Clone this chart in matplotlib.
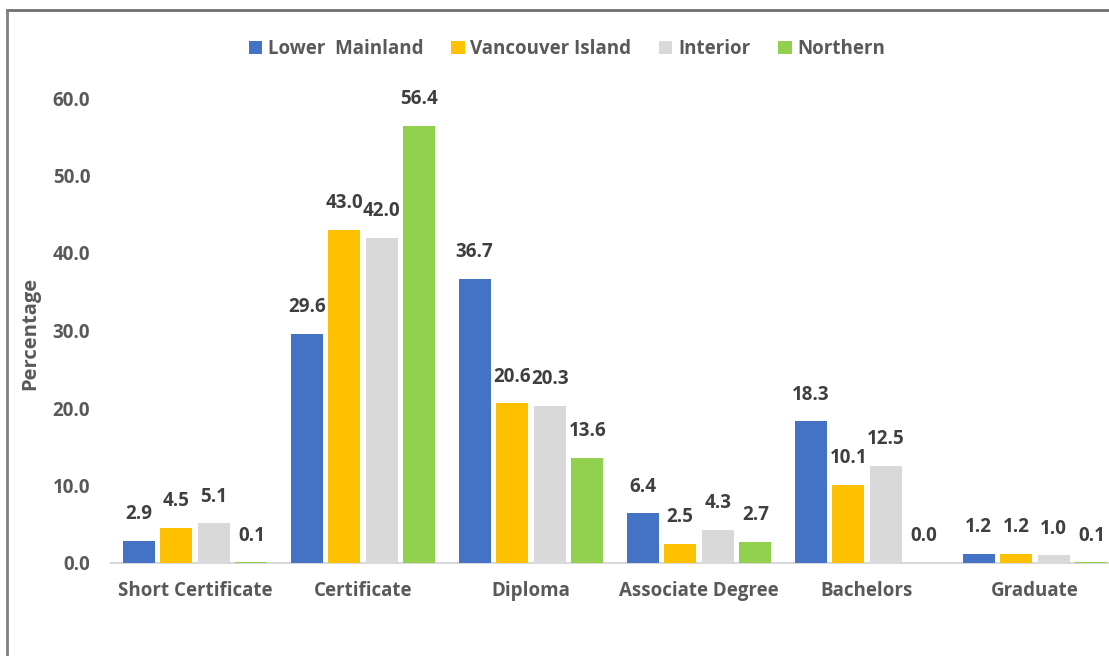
import matplotlib
matplotlib.use("Agg")
import matplotlib.pyplot as plt
from matplotlib.lines import Line2D
import numpy as np

plt.rcParams['font.family'] = ['Open Sans', 'DejaVu Sans']
plt.rcParams['font.weight'] = 'bold'

categories = ['Short Certificate', 'Certificate', 'Diploma',
              'Associate Degree', 'Bachelors', 'Graduate']
regions = ['Lower  Mainland', 'Vancouver Island', 'Interior', 'Northern']
lower_mainland = [2.9, 29.6, 36.7, 6.4, 18.3, 1.2]
vancouver_island = [4.5, 43.0, 20.6, 2.5, 10.1, 1.2]
interior = [5.1, 42.0, 20.3, 4.3, 12.5, 1.0]
northern = [0.1, 56.4, 13.6, 2.7, 0.0, 0.1]
yticks = [0, 10, 20, 30, 40, 50, 60]

series = [lower_mainland, vancouver_island, interior, northern]
colors = ['#4472C4', '#FFC000', '#D9D9D9', '#92D050']
label_col = '#3F3F3F'
tick_col = '#595959'
fs = 13.5

W, H = 1109, 656
fig = plt.figure(figsize=(W / 100, H / 100), dpi=100)
ax = fig.add_axes([111 / W, 1 - 563 / H, (W - 111) / W, (563 - 98) / H])

x = np.arange(len(categories))
bw = 0.19
step = 0.2235
for i, (vals, c, name) in enumerate(zip(series, colors, regions)):
    xs = x + (i - 1.5) * step
    ax.bar(xs, vals, width=bw, color=c, label=name, zorder=3)
    for xi, v in zip(xs, vals):
        ax.annotate(f'{v:.1f}', (xi, v), xytext=(0, 12), textcoords='offset points',
                    ha='center', va='bottom', fontsize=fs, fontweight='bold',
                    color=label_col, annotation_clip=False)

ax.set_xlim(-0.5, (W - 195) / 168)
ax.set_ylim(0, 60)
ax.set_yticks(yticks)
ax.set_yticklabels([f'{t:.1f}' for t in yticks])
ax.set_xticks(x)
ax.set_xticklabels(categories)
ax.tick_params(axis='both', length=0, labelsize=fs, labelcolor=tick_col)
ax.tick_params(axis='y', pad=15)
ax.tick_params(axis='x', pad=13)
for s in ['top', 'right', 'left']:
    ax.spines[s].set_visible(False)
ax.spines['bottom'].set_color('#D9D9D9')
ax.spines['bottom'].set_linewidth(1.5)
ax.spines['bottom'].set_zorder(1)

fig.text(30 / W, 1 - 333 / H, 'Percentage', rotation=90, ha='center', va='center',
         fontsize=14.5, fontweight='bold', color=tick_col)

leg = fig.legend(loc='center', bbox_to_anchor=(567 / W, 1 - 49 / H), ncol=4,
                 frameon=False, fontsize=fs, handlelength=0.7, handleheight=0.7,
                 handletextpad=0.3, columnspacing=1.5, borderaxespad=0)
for t in leg.get_texts():
    t.set_color(tick_col)

# outer frame (top and left edges visible in the reference)
fig.add_artist(Line2D([6.5 / W, 1], [1 - 9.5 / H, 1 - 9.5 / H], color='#707070', lw=2,
                      transform=fig.transFigure))
fig.add_artist(Line2D([6.5 / W, 6.5 / W], [0, 1 - 9.5 / H], color='#808080', lw=2,
                      transform=fig.transFigure))

fig.savefig('out.png', dpi=100)
